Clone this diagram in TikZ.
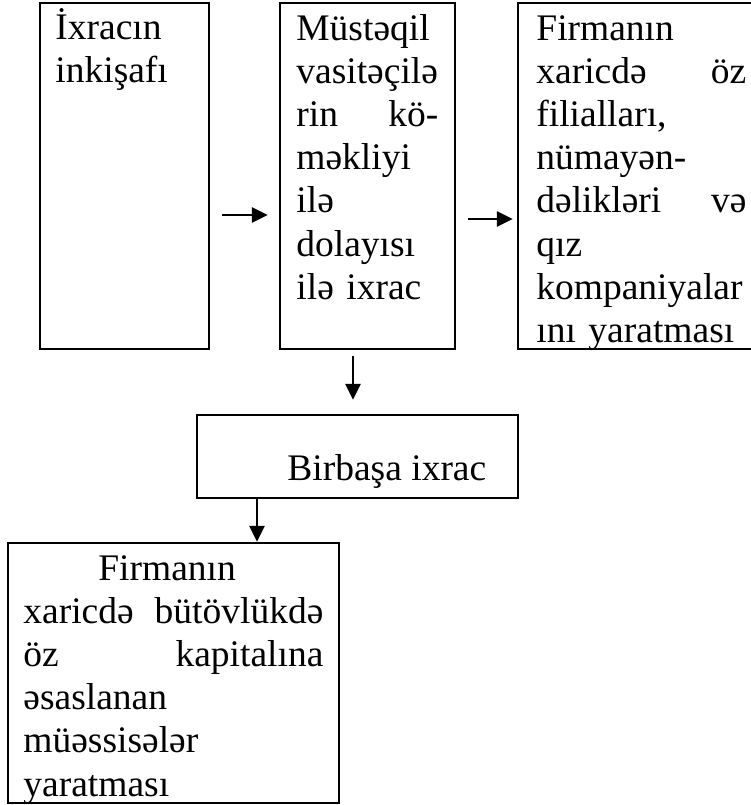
\documentclass[tikz,border=0pt]{standalone}
\usepackage{fontspec}
\setmainfont{Liberation Serif}
\usetikzlibrary{arrows.meta}
\hyphenpenalty=10000

\begin{document}
\begin{tikzpicture}[x=0.5pt,y=-0.5pt,>={Triangle[length=8pt,width=7.5pt]}]
\tikzstyle{box}=[rectangle,draw,line width=1.2pt,inner sep=0pt]
\tikzstyle{txt}=[anchor=base west,inner sep=0pt,align=left,font=\fontsize{18.75}{21.6}\selectfont]
\tikzstyle{arr}=[->,line width=1.3pt]

\useasboundingbox (0,0) rectangle (751,805);

\node[box,minimum width=84.5pt,minimum height=173pt] (dev)    at (124.5,176) {};
\node[box,minimum width=87.5pt,minimum height=173pt] (indir)  at (367.5,176) {};
\node[box,minimum width=121.5pt,minimum height=173pt] (branch) at (639.5,176) {};

\node[txt,text width=70pt] (devT) at (55,39) {İxracın\\ inkişafı};
\node[txt,text width=71pt] (indirT) at (296,40)
  {Müstəqil\\ vasitəçilə\\ rin\hfill kö-\\ məkliyi\\ ilə\\ dolayısı\\ ilə ixrac};
\node[txt,text width=105pt] (branchT) at (536,40)
  {Firmanın\\ xaricdə\hfill öz\\ filialları,\\ nümayən-\\ dəlikləri\hfill və\\ qız\\ kompaniyalar\\ ını yaratması};

\draw[arr] ([shift={(12,39)}]dev.east) -- ([shift={(-11,39)}]indir.west);
\draw[arr] ([shift={(12,43)}]indir.east) -- ([shift={(-4,43)}]branch.west);


\node[box,minimum width=160.5pt,minimum height=41.5pt] (direct) at (357.5,456.5) {};
\node[txt] (directT) at (287,480) {Birbaşa ixrac};
\draw[arr] ([shift={(-14.5,6)}]indir.south) -- ([shift={(-4.5,-14)}]direct.north);


\node[box,minimum width=165.5pt,minimum height=130pt] (own) at (173.5,673) {};
\node[txt,text width=150pt] (ownT) at (23,580)
  {\hspace*{37.5pt}Firmanın\\ xaricdə\hfill bütövlükdə\\ öz\hfill kapitalına\\ əsaslanan\\ müəssisələr\\ yaratması};
\draw[arr] ([shift={(-100.5,-2)}]direct.south) -- ([shift={(83.5,0)}]own.north);

\end{tikzpicture}
\end{document}
